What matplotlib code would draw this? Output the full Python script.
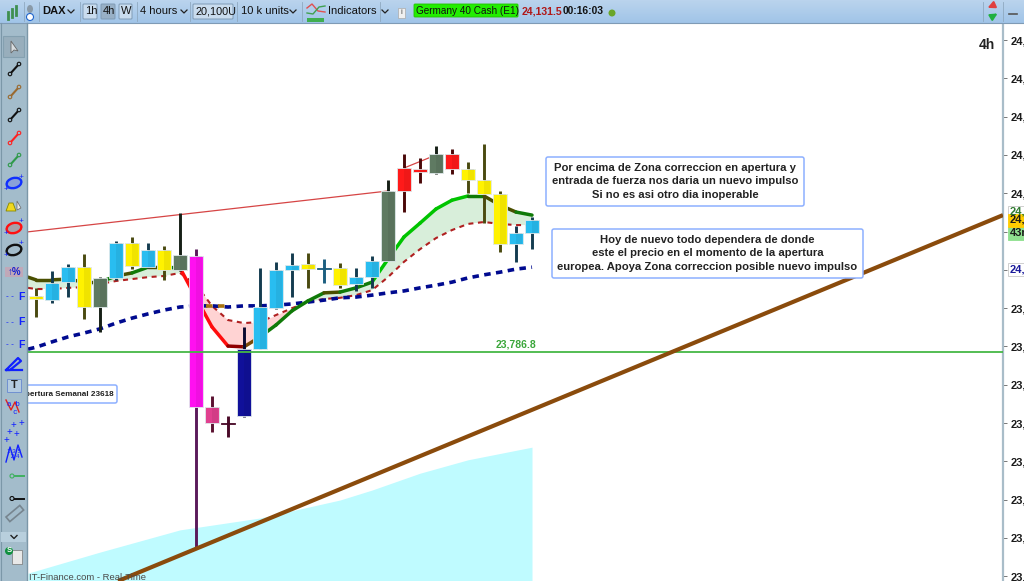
import numpy as np
import matplotlib
matplotlib.use("Agg")
import matplotlib.pyplot as plt
from matplotlib.patches import FancyBboxPatch, Ellipse, Rectangle, Polygon

plt.rcParams['font.family'] = ['Liberation Sans', 'DejaVu Sans']

# --- DATA (DAX 4h) ---
body_top = [23932, 23966, 24007, 24007, 23979, 24070, 24070, 24052, 24052, 24039, 24036,
            23642, 23600, 23793, 23903, 23999, 24013, 24015, 24005, 24005, 23981, 24023,
            24206, 24266, 24263, 24303, 24303, 24263, 24235, 24198, 24096, 24130]
body_bot = [23924, 23921, 23968, 23903, 23903, 23979, 24010, 24007, 23999, 23999, 23642,
            23600, 23597, 23618, 23793, 23900, 23999, 24002, 24002, 23961, 23963, 23981,
            24023, 24206, 24256, 24253, 24263, 24235, 24198, 24068, 24068, 24096]
high = [23953, 23997, 24015, 24041, 23981, 24075, 24086, 24070, 24062, 24149, 24054,
        23671, 23618, 23851, 24005, 24021, 24044, 24044, 24028, 24018, 24005, 24036,
        24235, 24303, 24292, 24324, 24316, 24282, 24329, 24206, 24115, 24138]
low = [23877, 23913, 23929, 23872, 23838, 23974, 24002, 24005, 23974, 23997, 23271,
       23577, 23564, 23616, 23793, 23898, 23929, 23953, 23966, 23953, 23945, 23953,
       24023, 24151, 24227, 24250, 24250, 24201, 24122, 24047, 24021, 24054]
kinds = ['y', 'b', 'b', 'y', 'g', 'b', 'y', 'b', 'y', 'g', 'm', 'p', 'd', 'n', 'b', 'b',
         'b', 'y', 't', 'y', 'b', 'b', 'g', 'r', 'r', 'g', 'r', 'y', 'y', 'y', 'b', 'b']

# moving averages, first point sits half a bar before candle 0
ma_x = [-0.5] + list(range(32))
ma_fast = [23981, 23974, 23974, 23976, 23968, 23968, 23984, 23992, 24007, 24007, 24005,
           23927, 23851, 23801, 23799, 23825, 23856, 23893, 23919, 23940, 23942, 23953,
           23968, 24028, 24086, 24122, 24159, 24182, 24193, 24193, 24169, 24151, 24143]
ma_slow = [23953, 23950, 23950, 23953, 23955, 23963, 23971, 23976, 23981, 23984, 23992,
           23961, 23906, 23869, 23861, 23864, 23882, 23900, 23916, 23924, 23927, 23934,
           23947, 23981, 24021, 24054, 24083, 24104, 24120, 24125, 24120, 24117, 24117]
ma_long = [23793, 23798, 23812, 23825, 23835, 23846, 23861, 23874, 23885, 23895, 23903,
           23906, 23906, 23903, 23906, 23906, 23908, 23911, 23916, 23921, 23927, 23929,
           23934, 23940, 23945, 23953, 23960, 23968, 23979, 23987, 23994, 24002, 24007]
fast_colors = ['ol', 'ol', 'ol', 'ol', 'ol', 'dg', 'ol', 'dg', 'ol', 'dg', 'r', 'r', 'r',
               'dr', 'br', 'dg', 'dg', 'dg', 'dg', 'ol', 'dg', 'dg', 'lg', 'lg', 'lg', 'lg',
               'lg', 'lg', 'dg', 'ol', 'ol', 'dg']
long_brown_x = [10.6, 11.9]
long_brown_y = [23906, 23906]

cloud_x = [-0.5, 4, 9, 14, 19, 21, 24, 27, 31]
cloud_y = [23208, 23263, 23321, 23352, 23399, 23425, 23469, 23504, 23537]

level = 23786.8
trend_x = [5.125, 60.4375]
trend_y = [23187.5, 24143]
res_a_x = [-0.5625, 22]
res_a_y = [24099, 24206]
res_b_x = [23, 25]
res_b_y = [24266, 24300]
yticks = list(range(23200, 24700, 100))

body_col = {'y': '#fff200', 'b': '#29bdf0', 'g': '#5f7a62', 'm': '#ff10f0', 'p': '#e0408f',
            'd': '#4a0a28', 'n': '#10109a', 'r': '#ff1a1a', 't': '#1c5f80'}
wick_col = {'y': '#4a4a10', 'b': '#143c50', 'g': '#161f16', 'm': '#5a1a5a', 'p': '#5a1030',
            'd': '#4a0a28', 'n': '#0a0a30', 'r': '#4a0808', 't': '#1c5f80'}
line_col = {'ol': '#4a4f00', 'dg': '#107a08', 'lg': '#00c400', 'r': '#ff0d0d', 'dr': '#8f0000',
            'br': '#7a4a08'}

W, H = 1024, 581
fig = plt.figure(figsize=(W / 100, H / 100), dpi=100, facecolor='white')
ax = fig.add_axes([27 / W, 0, 976 / W, (H - 23) / H])
ax.set_xlim(-0.5625, 60.4375)
ax.set_ylim(23187.5, 24644.7)
for s in ['top', 'left', 'bottom']:
    ax.spines[s].set_visible(False)
ax.spines['right'].set_color('#a9bdc9')
ax.spines['right'].set_linewidth(1.6)
ax.set_xticks([])
ax.yaxis.tick_right()
ax.set_yticks(yticks)
ax.set_yticklabels([f"{v:,}" for v in yticks], fontsize=8, fontweight='bold', color='#1a1a1a')
ax.tick_params(axis='y', length=3, width=0.7, color='#777777', pad=2.5)

# cloud, fills, averages
ax.fill_between(cloud_x, cloud_y, 23187.5, color='#bffbff', lw=0, zorder=1)
fx, ff, fs = np.array(ma_x, float), np.array(ma_fast, float), np.array(ma_slow, float)
ax.fill_between(fx, ff, fs, where=ff >= fs, interpolate=True, color='#d8eeda', lw=0, zorder=2)
ax.fill_between(fx, ff, fs, where=ff <= fs, interpolate=True, color='#ffd3d3', lw=0, zorder=2)
ax.plot(ma_x, ma_slow, color='#b02020', lw=1.5, ls=(0, (2.4, 2.2)), zorder=3)
ax.plot(ma_x, ma_long, color='#000a8f', lw=2.6, ls=(0, (1.8, 1.5)), zorder=3)
ax.plot(long_brown_x, long_brown_y, color='#a8720f', lw=2.6, ls=(0, (1.8, 1.5)), zorder=3)
for i in range(len(ma_x) - 1):
    ax.plot(ma_x[i:i + 2], ma_fast[i:i + 2], color=line_col[fast_colors[i]], lw=2.5,
            solid_capstyle='round', zorder=4)

ax.plot(res_a_x, res_a_y, color='#d64545', lw=0.9, zorder=4)
ax.plot(res_b_x, res_b_y, color='#d64545', lw=0.9, zorder=4)

# candles
for i, k in enumerate(kinds):
    ax.plot([i, i], [low[i], high[i]], color=wick_col[k], lw=2.1, solid_capstyle='butt', zorder=5)
    edge = body_col[k] if k in 'dt' else '#dfe8ea'
    ax.bar(i, body_top[i] - body_bot[i], bottom=body_bot[i], width=0.82, color=body_col[k],
           edgecolor=edge, linewidth=0.6, zorder=6)
    ax.bar(i + 0.2, body_top[i] - body_bot[i], bottom=body_bot[i], width=0.41, color='black',
           alpha=0.06, lw=0, zorder=6)

ax.axhline(level, color='#45b745', lw=1.3, zorder=7)
ax.plot(trend_x, trend_y, color='#8a4b0c', lw=3.0, zorder=8, solid_capstyle='butt')
ax.text(30, level + 6, "23,786.8", color='#3aa63a', fontsize=7.5, fontweight='bold',
        ha='center', va='bottom', zorder=8)

# --- chrome in pixel coordinates ---
tb = fig.add_axes([0, 0, 1, 1], facecolor='none')
tb.set_xlim(0, W)
tb.set_ylim(H, 0)
tb.axis('off')

def note(x0, y0, x1, y1, lines, size=8.15):
    tb.add_patch(FancyBboxPatch((x0 + 2, y0 + 2), x1 - x0 - 4, y1 - y0 - 4,
                                boxstyle="round,pad=2", fc='white', ec='#8db0ff', lw=1.1, zorder=10))
    tb.text((x0 + x1) / 2, (y0 + y1) / 2, "\n".join(lines), ha='center', va='center',
            fontsize=size, fontweight='bold', color='#222222', linespacing=1.48, zorder=11)

note(546, 157, 804, 206, ["Por encima de Zona correccion en apertura y",
                          "entrada de fuerza nos daria un nuevo impulso",
                          "Si no es asi otro dia inoperable"])
note(552, 229, 863, 278, ["Hoy de nuevo todo dependera de donde",
                          "este el precio en el momento de la apertura",
                          "europea. Apoya Zona correccion posible nuevo impulso"])
tb.add_patch(FancyBboxPatch((20, 387), 95, 14, boxstyle="round,pad=2", fc='white', ec='#8db0ff',
                            lw=1.1, zorder=10))
tb.text(114, 394.5, "Apertura Semanal 23618", ha='right', va='center', fontsize=5.85,
        fontweight='bold', color='#222222', zorder=11)
tb.text(29, 577.5, "IT-Finance.com - Real-Time", ha='left', va='center', fontsize=6.8,
        color='#4a4a4a', zorder=11)
tb.text(995, 45, "4h", ha='right', va='center', fontsize=10, fontweight='bold', color='#222222')

# price tags on the right axis
def tag(y, label, fc, ec, col):
    tb.add_patch(Rectangle((1008, y - 6.5), 16, 13, fc=fc, ec=ec, lw=0.6, zorder=12))
    tb.text(1010, y, label, ha='left', va='center', fontsize=8, fontweight='bold', color=col, zorder=13)

tag(212, "24,150", 'white', '#c8c8c8', '#2f7a2f')
tag(233, "43m", '#8fe08f', '#8fe08f', '#1a1a1a')
tag(220, "24,131", '#ffcc00', '#ffcc00', '#1a1a1a')
tag(269, "24,005", 'white', '#c8c8c8', '#1a1a9a')

# top bar
grad = np.linspace(0, 1, 23)[:, None]
top_cols = np.array([0.73, 0.83, 0.93]) * (1 - grad[..., None]) + np.array([0.63, 0.77, 0.91]) * grad[..., None]
tb.imshow(top_cols, extent=(0, W, 23, 0), aspect='auto', zorder=20)
tb.set_xlim(0, W)
tb.set_ylim(H, 0)
tb.plot([0, W], [22.5, 22.5], color='#7f9bb5', lw=0.8, zorder=21)
for x in [24, 39, 80, 137, 190, 237, 302, 380, 983, 1003]:
    tb.plot([x, x], [2, 21], color='#8fa9c0', lw=0.6, zorder=21)

def bar_text(x, label, col='#111111', bold=False, size=8):
    tb.text(x, 11.5, label, ha='left', va='center', fontsize=size, color=col,
            fontweight='bold' if bold else 'normal', zorder=23)

def chevron(x):
    tb.plot([x - 3, x, x + 3], [10, 13, 10], color='#222222', lw=0.9, zorder=23)

def button(x0, x1, fc='#c9dcee'):
    tb.add_patch(FancyBboxPatch((x0 + 1, 5), x1 - x0 - 2, 13, boxstyle="round,pad=1", fc=fc,
                                ec='#7f9bb5', lw=0.7, zorder=22))

for x, y0, y1 in [(8, 12, 19), (12, 9, 17), (16, 6, 15)]:
    tb.plot([x, x], [y0, y1], color='#3f8f4f', lw=2, zorder=23)
tb.add_patch(Ellipse((30, 9), 6, 8, fc='#8a9aa8', ec='none', zorder=23))
tb.add_patch(Ellipse((30, 17), 7, 7, fc='white', ec='#2266cc', lw=0.8, zorder=23))
bar_text(42, "DAX", bold=True, size=8)
chevron(71)
button(83, 97)
bar_text(85, "1h")
button(101, 115, '#98b0c6')
bar_text(103, "4h")
button(119, 132)
bar_text(121, "W")
bar_text(140, "4 hours")
chevron(184)
button(193, 233)
bar_text(196, "20,100U", size=7.8)
bar_text(241, "10 k units")
chevron(293)
tb.plot([307, 312, 318, 325], [8, 4, 11, 12], color='#e05050', lw=1, zorder=23)
tb.plot([307, 313, 319, 325], [13, 14, 7, 6], color='#40a050', lw=1, zorder=23)
tb.add_patch(Rectangle((307, 18), 17, 4, fc='#3fae4f', ec='none', zorder=23))
bar_text(328, "Indicators", size=8)
chevron(385)
tb.add_patch(Rectangle((398, 8), 7, 10, fc='#f0f0f0', ec='#aaaaaa', lw=0.5, zorder=23))
tb.text(401.5, 13, "i", ha='center', va='center', fontsize=6, color='#555555', zorder=24)
tb.add_patch(FancyBboxPatch((415, 5), 102, 11, boxstyle="round,pad=1", fc='#22ee00', ec='#22c000',
                            lw=0.6, zorder=22))
bar_text(416, "Germany 40 Cash (E1)", size=7.2)
bar_text(522, "24,131.5", col='#b01818', bold=True, size=7.6)
bar_text(563, "00:16:03", bold=True, size=7.4)
tb.add_patch(Ellipse((612, 13), 7, 7, fc='#6aa62a', ec='none', zorder=23))
tb.annotate("", xy=(985, 9), xytext=(994, 5), zorder=23,
            arrowprops=dict(arrowstyle='-|>', color='#e04040', lw=1.5))
tb.annotate("", xy=(1000, 12), xytext=(990, 18), zorder=23,
            arrowprops=dict(arrowstyle='-|>', color='#20b040', lw=1.5))
tb.plot([1009, 1017], [14, 14], color='#555555', lw=1.2, zorder=23)

# left bar
tb.add_patch(Rectangle((0, 23), 27, H - 23, fc='#a3bccb', ec='none', zorder=20))
tb.plot([26.5, 26.5], [23, H], color='#7b97a8', lw=1, zorder=21)
tb.plot([1, 1], [23, H], color='#7b97a8', lw=0.8, zorder=21)
tb.add_patch(Rectangle((3, 36), 21, 21, fc='#98aebc', ec='#84a0b0', lw=0.8, zorder=21))
tb.add_patch(Polygon([(11, 41), (11, 53), (14, 50), (18, 51)], fc='#d8dde0', ec='#666666', lw=0.6, zorder=22))

def tool_line(y, col):
    tb.plot([10, 19], [y + 5, y - 5], color=col, lw=1.5, zorder=22)
    for px, py in [(10, y + 5), (19, y - 5)]:
        tb.add_patch(Ellipse((px, py), 3.5, 3.5, fc='#a3bccb', ec=col, lw=0.8, zorder=23))

tool_line(69, '#111111')
tool_line(92, '#9a6a30')
tool_line(115, '#111111')
tool_line(138, '#ff2020')
tool_line(160, '#2f9a4a')

def tool_ellipse(y, col, fill):
    tb.add_patch(Ellipse((14, y), 15, 10, angle=-15, fc=fill, ec=col, lw=1.7, zorder=22))
    tb.text(21, y - 6, "+", color='#1020ff', fontsize=6, ha='center', va='center', zorder=23)
    tb.text(6, y + 6, "+", color='#1020ff', fontsize=6, ha='center', va='center', zorder=23)

tool_ellipse(183, '#1030ff', '#8aa0d8')
tool_ellipse(228, '#ff1010', '#a8a0a8')
tool_ellipse(250, '#111111', '#a3bccb')
tb.add_patch(Polygon([(6, 211), (16, 211), (13, 203), (9, 203)], fc='#f0d820', ec='#888800', lw=0.6, zorder=22))
tb.add_patch(Polygon([(17, 201), (17, 210), (21, 208)], fc='#e8e8e8', ec='#666666', lw=0.5, zorder=22))
tb.add_patch(Rectangle((5, 267), 18, 10, fc='#c0a8b8', ec='none', zorder=21))
tb.text(14, 272, "↑%", color='#1020d0', fontsize=7, fontweight='bold', ha='center', va='center', zorder=22)
for y in [297, 322, 345]:
    tb.text(21, y, "F", color='#1020ff', fontsize=7.5, fontweight='bold', ha='center', va='center', zorder=22)
    tb.text(10, y, "- -", color='#1020ff', fontsize=6, ha='center', va='center', zorder=22)
tb.plot([6, 18, 21, 10, 6, 22], [370, 358, 361, 370, 370, 370], color='#1020ff', lw=1.6, zorder=22)
tb.add_patch(Rectangle((7, 379), 14, 13, fc='#b4cbe0', ec='#7090d0', lw=0.7, zorder=21))
tb.text(14, 385.5, "T", color='#222222', fontsize=8, fontweight='bold', ha='center', va='center', zorder=22)
tb.plot([6, 11, 15, 19], [400, 410, 402, 412], color='#e02020', lw=1, zorder=22)
tb.text(13, 409, "a  b\n  c", color='#1020ff', fontsize=5.5, ha='center', va='center', zorder=23)
for px, py in [(6, 440), (9, 432), (13, 425), (21, 423), (16, 434)]:
    tb.text(px, py, "+", color='#1020ff', fontsize=7, ha='center', va='center', zorder=22)
tb.plot([6, 10, 14, 18, 22], [462, 447, 460, 445, 457], color='#1020ff', lw=1, zorder=22)
tb.text(14, 454, "1 3 5\n 2 4", color='#1020ff', fontsize=4.5, ha='center', va='center', zorder=23)
tb.plot([13, 24], [476, 476], color='#40b060', lw=1.4, zorder=22)
tb.add_patch(Ellipse((12, 476), 4, 4, fc='#a3bccb', ec='#40b060', lw=0.8, zorder=23))
tb.plot([13, 24], [498.5, 498.5], color='#111111', lw=1.4, zorder=22)
tb.add_patch(Ellipse((12, 498.5), 4, 4, fc='#a3bccb', ec='#111111', lw=0.8, zorder=23))
tb.add_patch(Rectangle((6, 517), 18, 6, angle=-40, fc='#a3bccb', ec='#77858f', lw=1.2, zorder=22))
tb.add_patch(Rectangle((1, 532), 25, 10, fc='#b8cfdd', ec='none', zorder=21))
tb.plot([11, 14, 17], [535.5, 538.5, 535.5], color='#222222', lw=1, zorder=22)
tb.add_patch(Ellipse((9, 551), 8, 8, fc='#109040', ec='none', zorder=23))
tb.text(9, 551, "S", color='white', fontsize=5.5, fontweight='bold', ha='center', va='center', zorder=24)
tb.add_patch(Rectangle((12, 550), 10, 14, fc='#e8e8e8', ec='#777777', lw=0.5, zorder=22))

fig.savefig("out.png", dpi=100)
